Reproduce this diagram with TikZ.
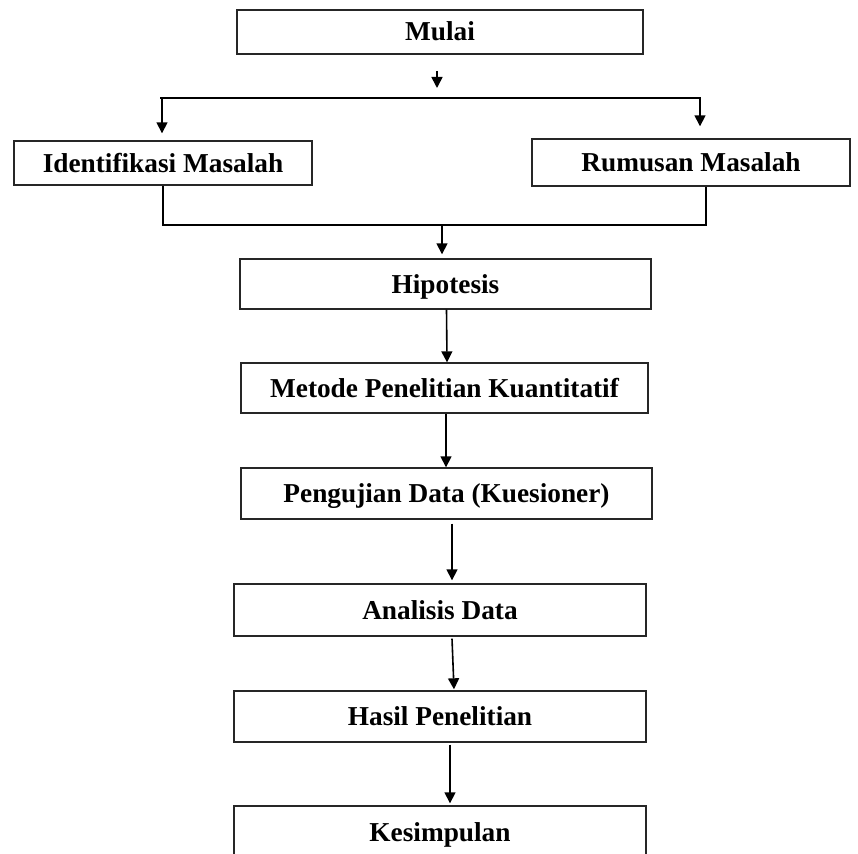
\documentclass[tikz,border=0pt]{standalone}
\usepackage{fontspec}
\setmainfont{Liberation Serif}
\usetikzlibrary{arrows.meta,calc}
\begin{document}
\begin{tikzpicture}[x=1pt,y=-1pt,
  box/.style={draw=black!85,line width=1.4pt,fill=white,inner sep=0pt,
    text height=18pt,text depth=0pt,
    font=\fontsize{27.3}{32}\selectfont\bfseries},
  conn/.style={line width=1.6pt,black},
  arr/.style={conn,-{Triangle[length=11pt,width=11pt]}}]
\useasboundingbox (0,0) rectangle (858,853);
\fill[white] (0,0) rectangle (858,853);
\node[box,minimum width=406pt,minimum height=44pt] (mulai) at (440,32) {Mulai};
\node[box,minimum width=298pt,minimum height=44pt] (ident) at (163,163) {Identifikasi Masalah};
\node[box,minimum width=318pt,minimum height=47pt] (rumus) at (691,162.5) {Rumusan Masalah};
\node[box,minimum width=411pt,minimum height=50pt] (hipo) at (445.5,284) {Hipotesis};
\node[box,minimum width=407pt,minimum height=50pt] (metode) at (444.5,388) {Metode Penelitian Kuantitatif};
\node[box,minimum width=411pt,minimum height=51pt] (uji) at (446.5,493.5) {Pengujian Data (Kuesioner)};
\node[box,minimum width=412pt,minimum height=52pt] (analisis) at (440,610) {Analisis Data};
\node[box,minimum width=412pt,minimum height=51pt] (hasil) at (440,716.5) {Hasil Penelitian};
\node[box,minimum width=412pt,minimum height=52pt] (kesim) at (440,832) {Kesimpulan};
% split from Mulai
\coordinate (m1) at (437,71);
\coordinate (m2) at (437,88);
\draw[arr] (m1) -- (m2);
\coordinate (sl) at (160,98);
\coordinate (sr) at (701,98);
\draw[conn] (sl) -- (sr);
\coordinate (sa) at (162,98);
\coordinate (sb) at (700,98);
\draw[arr] (sa) -- ($(sa |- ident.north)+(0,-7)$);
\draw[arr] (sb) -- ($(sb |- rumus.north)+(0,-12)$);
% merge to Hipotesis
\coordinate (jl) at (163,225);
\coordinate (jr) at (706,225);
\coordinate (jm) at (442,225);
\draw[conn] (ident.south) -- (jl) -- (jr) -- (rumus.south -| jr);
\draw[arr] (jm) -- ($(jm |- hipo.north)+(0,-4)$);
% chain
\draw[arr] ($(hipo.south)+(1,0)$) -- ($(metode.north)+(2.5,0)$);
\draw[arr] ($(metode.south)+(1.5,0)$) -- ($(uji.north)+(-0.5,0)$);
\draw[arr] ($(uji.south)+(5.5,4)$) -- ($(analisis.north)+(12,-3)$);
\draw[arr] ($(analisis.south)+(12,2)$) -- ($(hasil.north)+(14,-1)$);
\draw[arr] ($(hasil.south)+(10,2)$) -- ($(kesim.north)+(10,-2)$);
\end{tikzpicture}
\end{document}
